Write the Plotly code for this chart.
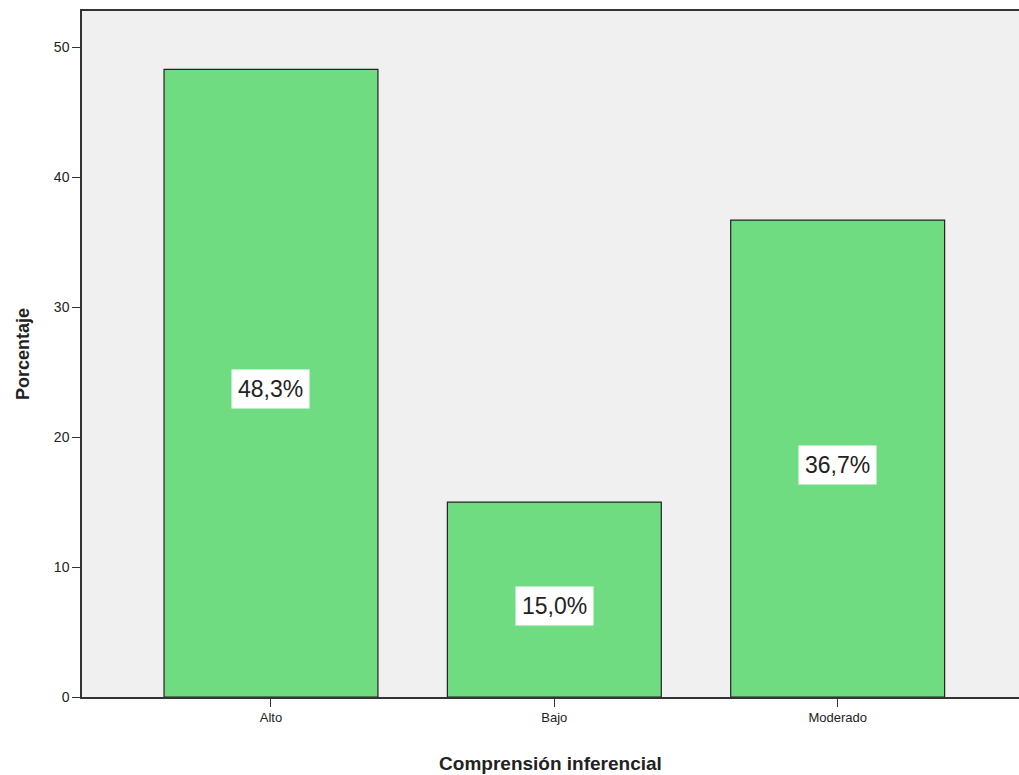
import plotly.graph_objects as go

categories = ["Alto", "Bajo", "Moderado"]
values = [48.3, 15.0, 36.7]
labels = ["48,3%", "15,0%", "36,7%"]
y_ticks = [0, 10, 20, 30, 40, 50]

fig = go.Figure()
fig.add_trace(go.Bar(
    x=categories, y=values,
    marker=dict(color="#70DC82", line=dict(color="#222222", width=1.2)),
    width=0.755,
    hoverinfo="skip",
))

for c, v, t in zip(categories, values, labels):
    fig.add_annotation(
        x=c, y=v / 2, text=t, showarrow=False, yshift=-6,
        font=dict(family="Liberation Sans, Arial", size=23, color="#222222"),
        bgcolor="white", borderpad=6,
    )

fig.update_layout(
    width=1019, height=775,
    margin=dict(l=82, r=0, t=11, b=78),
    paper_bgcolor="white", plot_bgcolor="#F0F0F0",
    showlegend=False,
    font=dict(family="Liberation Sans, Arial", color="#222222"),
    xaxis=dict(
        range=[-0.667, 2.64], showgrid=False, zeroline=False,
        showline=True, linecolor="#333333", linewidth=1.5, mirror=True,
        ticks="outside", ticklen=8, tickcolor="#333333",
        tickfont=dict(size=13),
        title=dict(text="<b>Comprensión inferencial</b>", font=dict(size=19), standoff=32),
    ),
    yaxis=dict(
        range=[0, 52.8], tickvals=y_ticks, showgrid=False, zeroline=False,
        showline=True, linecolor="#333333", linewidth=1.5,
        ticks="outside", ticklen=8, tickcolor="#333333",
        tickfont=dict(size=14),
        title=dict(text="<b>Porcentaje</b>", font=dict(size=18), standoff=20),
    ),
)

fig.write_html(
    "out.html",
    config={"displayModeBar": False},
    post_script="document.body.style.margin='0';document.body.style.overflow='hidden';",
)
